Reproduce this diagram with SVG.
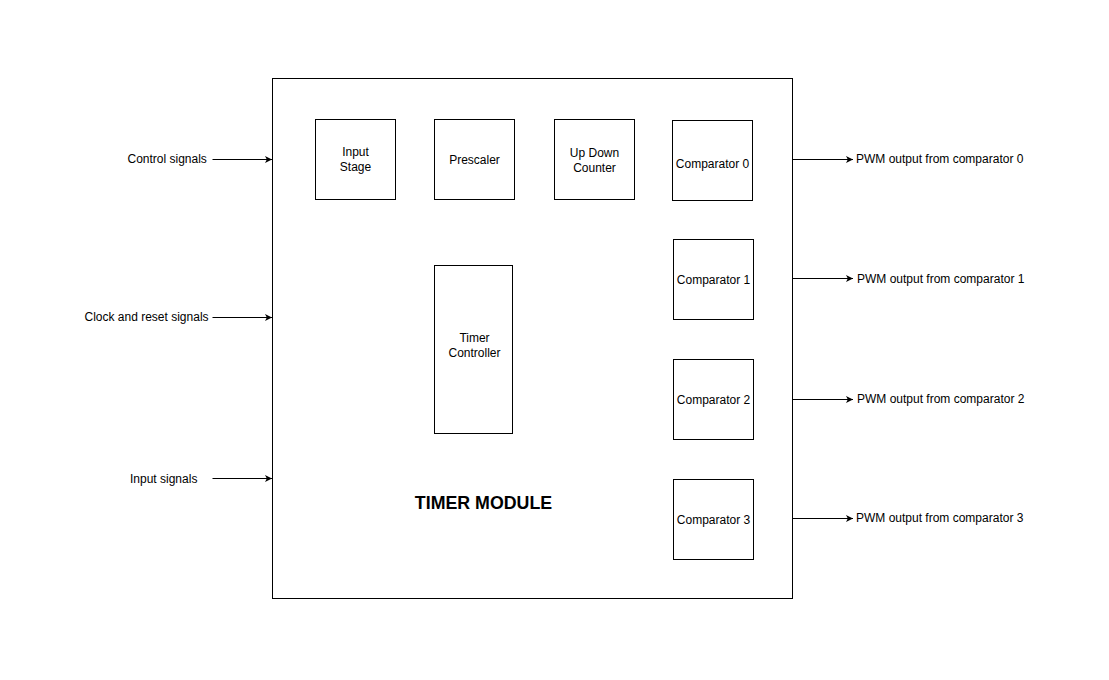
<svg xmlns="http://www.w3.org/2000/svg" width="1109" height="680" viewBox="0 0 1109 680">
<style>
.box{fill:#fff;stroke:#000;stroke-width:1}
.t{font-family:"Liberation Sans",Arial,sans-serif;font-size:12px;fill:#000}
.c{text-anchor:middle}
.title{font-family:"Liberation Sans",Arial,sans-serif;font-size:17.8px;font-weight:bold;fill:#000;text-anchor:middle}
.conn{stroke:#000;stroke-width:1;fill:none;marker-end:url(#ah)}
</style>
<defs>
<marker id="ah" markerWidth="8" markerHeight="8" refX="7" refY="4" orient="auto" markerUnits="userSpaceOnUse">
<path d="M0,0.5 L7,4 L0,7.5 L1.8,4 Z" fill="#000"/>
</marker>
</defs>
<rect width="1109" height="680" fill="#fff"/>
<g id="timer-module">
<rect class="box" x="272.5" y="78.5" width="520" height="520"/>
<text class="title" x="483.5" y="509">TIMER MODULE</text>
</g>
<g id="input-stage">
<rect class="box" x="315.5" y="119.5" width="80" height="80"/>
<text class="t c" x="355.5" y="156">Input</text>
<text class="t c" x="355.5" y="171">Stage</text>
</g>
<g id="prescaler">
<rect class="box" x="434.5" y="119.5" width="80" height="80"/>
<text class="t c" x="474.5" y="164">Prescaler</text>
</g>
<g id="up-down-counter">
<rect class="box" x="554.5" y="119.5" width="80" height="80"/>
<text class="t c" x="594.5" y="157">Up Down</text>
<text class="t c" x="594.5" y="172">Counter</text>
</g>
<g id="comparator0">
<rect class="box" x="672.5" y="120.5" width="80" height="80"/>
<text class="t c" x="712.5" y="168">Comparator 0</text>
</g>
<g id="comparator1">
<rect class="box" x="673.5" y="239.5" width="80" height="80"/>
<text class="t c" x="713.5" y="284">Comparator 1</text>
</g>
<g id="comparator2">
<rect class="box" x="673.5" y="359.5" width="80" height="80"/>
<text class="t c" x="713.5" y="404">Comparator 2</text>
</g>
<g id="comparator3">
<rect class="box" x="673.5" y="479.5" width="80" height="80"/>
<text class="t c" x="713.5" y="524">Comparator 3</text>
</g>
<g id="timer-controller">
<rect class="box" x="434.5" y="265.5" width="78" height="168"/>
<text class="t c" x="474.5" y="342">Timer</text>
<text class="t c" x="474.5" y="357">Controller</text>
</g>
<g id="labels">
<text class="t" x="127.5" y="163">Control signals</text>
<text class="t" x="84.5" y="321">Clock and reset signals</text>
<text class="t" x="130" y="483">Input signals</text>
<text class="t" x="856" y="163">PWM output from comparator 0</text>
<text class="t" x="857" y="283">PWM output from comparator 1</text>
<text class="t" x="857" y="403">PWM output from comparator 2</text>
<text class="t" x="856" y="522">PWM output from comparator 3</text>
</g>
<g id="connectors">
<path class="conn" d="M212.5,159.5 H272"/>
<path class="conn" d="M212.5,317.5 H272"/>
<path class="conn" d="M212.5,478.5 H272"/>
<path class="conn" d="M792.5,159.5 H853"/>
<path class="conn" d="M792.5,278.5 H853"/>
<path class="conn" d="M792.5,399.5 H853"/>
<path class="conn" d="M792.5,518.5 H853"/>
</g>
</svg>
